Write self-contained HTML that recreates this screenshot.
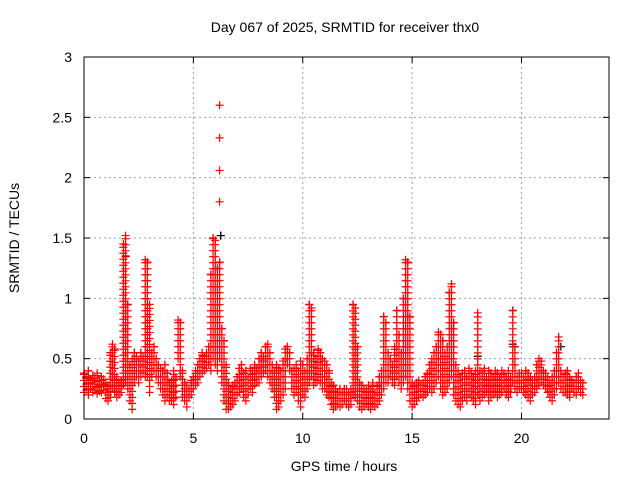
<!DOCTYPE html>
<html><head><meta charset="utf-8"><style>
html,body{margin:0;padding:0;background:#fff}
svg{display:block;font-family:"Liberation Sans",sans-serif}
</style></head><body>
<svg id="chart" width="640" height="480" viewBox="0 0 640 480">
<rect x="0" y="0" width="640" height="480" fill="#fff"/>
<text x="345" y="32" font-size="14" text-anchor="middle" fill="#000">Day 067 of 2025, SRMTID for receiver thx0</text>
<text x="0" y="0" transform="translate(19,238) rotate(-90)" font-size="14" text-anchor="middle" fill="#000">SRMTID / TECUs</text>
<text x="344" y="471" font-size="14" text-anchor="middle" fill="#000">GPS time / hours</text>
<g id="grid"></g>
<g id="ticks"></g>
<g id="marks"></g>
<rect x="84" y="57" width="525" height="362" fill="none" stroke="#000" stroke-width="1"/>
</svg>
<script>
const xTicks=[0,5,10,15,20];
const yTicks=[0,0.5,1,1.5,2,2.5,3];
const yTickLabels=["0","0.5","1","1.5","2","2.5","3"];
const tStart=0, tStep=0.1;
const hiVals=[
.38,.35,.40,.33,.36,.34,.38,.32,.35,.33,
.30,.28,.55,.62,.58,.35,.30,.32,1.45,1.52,
.95,.45,.50,.55,.52,.48,.55,.52,1.32,1.30,
.95,.55,.60,.50,.45,.42,.40,.45,.38,.30,
.32,.40,.35,.82,.80,.40,.30,.28,.25,.32,
.35,.40,.45,.50,.55,.52,.55,.60,1.20,1.50,
1.48,1.25,1.30,.75,.65,.45,.30,.25,.28,.30,
.35,.42,.45,.38,.40,.35,.42,.40,.45,.42,
.50,.55,.52,.60,.62,.55,.45,.40,.45,.42,
.40,.48,.58,.60,.55,.40,.42,.45,.40,.48,
.45,.40,.50,.95,.92,.55,.50,.58,.55,.50,
.48,.45,.40,.30,.28,.25,.22,.25,.22,.25,
.25,.22,.25,.95,.92,.60,.30,.28,.25,.25,
.28,.25,.30,.22,.28,.35,.40,.85,.80,.55,
.50,.45,.60,.90,.70,.55,1.00,1.32,1.30,.85,
.30,.28,.30,.32,.28,.30,.35,.38,.45,.50,
.55,.60,.72,.70,.65,.55,.60,1.05,1.12,.80,
.45,.40,.35,.38,.40,.35,.42,.38,.35,.40,
.88,.40,.38,.42,.35,.40,.38,.35,.40,.38,
.35,.40,.38,.35,.40,.35,.90,.60,.35,.38,
.38,.35,.40,.38,.35,.32,.35,.45,.50,.48,
.40,.38,.35,.32,.35,.40,.55,.68,.40,.35,
.38,.40,.35,.32,.30,.35,.38,.32,.30];
const loVals=[
.22,.24,.20,.25,.22,.24,.21,.23,.22,.24,
.17,.15,.18,.25,.22,.18,.20,.22,.28,.30,
.25,.15,.08,.30,.35,.30,.35,.38,.35,.35,
.22,.35,.40,.35,.30,.25,.20,.15,.18,.15,
.15,.12,.18,.50,.35,.18,.15,.10,.18,.20,
.25,.28,.30,.35,.38,.40,.42,.45,.40,.50,
.45,.40,.50,.30,.15,.08,.08,.10,.12,.15,
.20,.22,.25,.18,.15,.20,.25,.22,.28,.30,
.30,.35,.38,.40,.35,.30,.25,.18,.08,.10,
.15,.20,.25,.45,.40,.25,.20,.22,.15,.10,
.20,.18,.25,.30,.35,.28,.30,.32,.30,.25,
.25,.20,.18,.12,.08,.10,.12,.10,.12,.15,
.12,.10,.12,.20,.18,.15,.10,.08,.10,.12,
.10,.08,.12,.10,.12,.15,.20,.25,.30,.30,
.35,.30,.28,.35,.30,.25,.30,.35,.25,.15,
.10,.12,.15,.18,.20,.18,.20,.22,.25,.22,
.25,.30,.35,.25,.20,.22,.25,.30,.35,.20,
.15,.12,.10,.15,.18,.15,.20,.18,.15,.12,
.20,.15,.18,.20,.22,.15,.18,.20,.22,.18,
.20,.22,.25,.20,.18,.22,.30,.25,.22,.25,
.25,.22,.20,.18,.15,.20,.22,.25,.28,.30,
.28,.25,.22,.18,.15,.20,.25,.30,.25,.22,
.22,.20,.18,.25,.22,.20,.25,.22,.20];
const spikeTimes=[6.2,6.2,6.2,6.2,6.25];
const spikeVals=[2.6,2.33,2.06,1.8,1.52];
const blackTimes=[1.9,6.25,14.8,16.8,18.0,19.6,21.8,13.9];
const blackVals=[1.35,1.52,0.85,0.75,0.52,0.62,0.6,0.35];

const X0=84,X1=609,Y0=419,Y1=57,XMAX=24,YMAX=3;
function xs(t){return X0+(X1-X0)*t/XMAX;}
function ys(v){return Y0-(Y0-Y1)*v/YMAX;}
const NS='http://www.w3.org/2000/svg';
const grid=document.getElementById('grid'),ticks=document.getElementById('ticks'),marks=document.getElementById('marks');
function mk(tag,attrs,parent){const e=document.createElementNS(NS,tag);for(const k in attrs)e.setAttribute(k,attrs[k]);parent.appendChild(e);return e;}
xTicks.forEach(t=>{
  const x=xs(t);
  if(t>0){const g=mk('line',{x1:x,y1:Y0,x2:x,y2:Y1,stroke:'#a0a0a0','stroke-dasharray':'2,3','stroke-width':1},grid);
  
  }
  const a=mk('line',{x1:x,y1:Y0,x2:x,y2:Y0-6,stroke:'#000'},ticks);
  
  
  const b=mk('line',{x1:x,y1:Y1,x2:x,y2:Y1+6,stroke:'#000'},ticks);
  
  
  const l=mk('text',{x:x,y:443,'font-size':14,'text-anchor':'middle',fill:'#000'},ticks);
  l.textContent=String(t);
  
  
});
yTicks.forEach((v,i)=>{
  const y=ys(v);
  if(v>0&&v<YMAX){const g=mk('line',{x1:X0,y1:y,x2:X1,y2:y,stroke:'#a0a0a0','stroke-dasharray':'2,3','stroke-width':1},grid);
  
  }
  const a=mk('line',{x1:X0,y1:y,x2:X0+6,y2:y,stroke:'#000'},ticks);
  
  
  const b=mk('line',{x1:X1,y1:y,x2:X1-6,y2:y,stroke:'#000'},ticks);
  
  
  const l=mk('text',{x:72,y:y+5,'font-size':14,'text-anchor':'end',fill:'#000'},ticks);
  l.textContent=yTickLabels[i];
  
  
});
function plus(x,y,color,name){
  const p=mk('path',{d:`M${x-4} ${y}H${x+4}M${x} ${y-4}V${y+4}`,stroke:color,'stroke-width':1.2,fill:'none'},marks);
  
  
}
blackVals.forEach((v,i)=>plus(xs(blackTimes[i]),ys(v),'#000','black-point'));
hiVals.forEach((hv,i)=>{
  const t=tStart+i*tStep,x=xs(t),yh=ys(hv),yl=ys(loVals[i]);
  for(let y=yl;y>yh;y-=6)plus(x,y,'#f00','red-point');
  plus(x,yh,'#f00','red-point');
});
spikeVals.forEach((v,i)=>plus(xs(spikeTimes[i]),ys(v),i==4?'#000':'#f00','spike-point'));
</script>
</body></html>
